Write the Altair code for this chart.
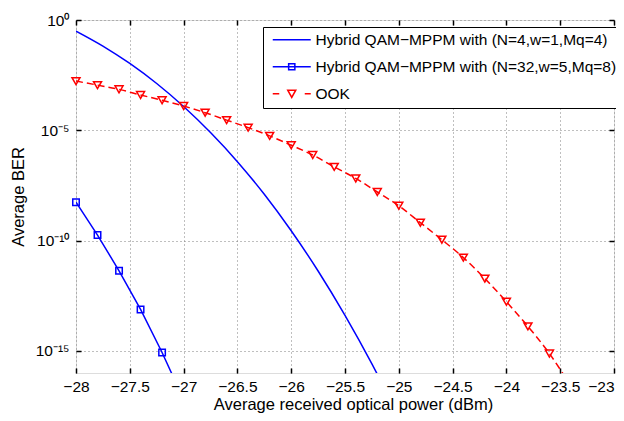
import altair as alt
import pandas as pd

# ---------------- data ----------------
label_n4 = "Hybrid QAM−MPPM with (N=4,w=1,Mq=4)"
label_n32 = "Hybrid QAM−MPPM with (N=32,w=5,Mq=8)"
label_ook = "OOK"
series_order = [label_n4, label_n32, label_ook]

n4_power = [-28.0, -27.75, -27.5, -27.25, -27.0, -26.75, -26.5, -26.25, -26.0,
            -25.75, -25.5, -25.25, -25.0]
n4_ber = [3.16e-1, 6.6e-2, 1.07e-2, 1.32e-3, 1.2e-4, 7.9e-6, 3.8e-7, 1.26e-8,
          2.8e-10, 4.2e-12, 4.1e-14, 2.6e-16, 1.0e-18]

n32_power = [-28.0, -27.8, -27.6, -27.4, -27.2, -27.0]
n32_ber = [5.5e-9, 1.78e-10, 4.3e-12, 7.6e-14, 8.5e-16, 6.3e-18]

ook_power = [-28.0, -27.8, -27.6, -27.4, -27.2, -27.0, -26.8, -26.6, -26.4, -26.2,
             -26.0, -25.8, -25.6, -25.4, -25.2, -25.0, -24.8, -24.6, -24.4, -24.2,
             -24.0, -23.8, -23.6, -23.4]
ook_ber = [1.7e-3, 1.12e-3, 7.2e-4, 4.0e-4, 2.3e-4, 1.26e-4, 6.3e-5, 2.9e-5, 1.32e-5,
           5.6e-6, 2.1e-6, 7.6e-7, 2.2e-7, 6.6e-8, 1.6e-8, 3.8e-9, 6.5e-10, 1.1e-10,
           1.7e-11, 1.9e-12, 1.7e-13, 1.3e-14, 7.6e-16, 2.5e-17]

x_ticks = [-28, -27.5, -27, -26.5, -26, -25.5, -25, -24.5, -24, -23.5, -23]
y_ticks = [1, 1e-5, 1e-10, 1e-15]
y_tick_labels = ["10⁰", "10⁻⁵", "10⁻¹⁰", "10⁻¹⁵"]

# ---------------- tables ----------------
df_n4 = pd.DataFrame({"power": n4_power, "ber": n4_ber, "series": label_n4})
df_n32 = pd.DataFrame({"power": n32_power, "ber": n32_ber, "series": label_n32})
df_ook = pd.DataFrame({"power": ook_power, "ber": ook_ber, "series": label_ook})
df_all = pd.concat([df_n4, df_n32, df_ook], ignore_index=True)

W, H = 538, 353
FONT = "Liberation Sans"
BLUE, RED = "#0000ff", "#ff0000"

xscale = alt.Scale(domain=[-28, -23], nice=False, zero=False)
yscale = alt.Scale(type="log", domain=[1e-16, 1], nice=False)

ylabel_expr = ("round(log(datum.value)/LN10) == 0 ? '%s' : round(log(datum.value)/LN10) == -5 ? '%s' : "
               "round(log(datum.value)/LN10) == -10 ? '%s' : '%s'") % tuple(y_tick_labels)

main_x = alt.Axis(values=x_ticks, format="~g", title="Average received optical power (dBm)",
                  grid=True, gridDash=[1, 3], gridColor="#7f7f7f", gridWidth=1,
                  ticks=False, domain=False, labelPadding=6, labelFontSize=15.5,
                  labelFlush=False,
                  labelAlign=alt.condition("datum.value >= -23.01", alt.value("right"),
                                           alt.value("center")),
                  labelColor="black", titleFontSize=16.5,
                  titleFontWeight="normal", titleColor="black",
                  titleX=277, titleY=36.5, titleBaseline="alphabetic",
                  labelFont=FONT, titleFont=FONT)
main_y = alt.Axis(values=y_ticks, labelExpr=ylabel_expr, title="Average BER",
                  grid=True, gridDash=[1, 3], gridColor="#7f7f7f", gridWidth=1,
                  ticks=False, domain=False, labelPadding=7, labelFontSize=15.5,
                  labelFlush=False, labelColor="black", titleFontSize=16.5,
                  titleFontWeight="normal", titleColor="black", titlePadding=9,
                  labelFont=FONT, titleFont=FONT)


def tick_axis(orient, offset, values):
    return alt.Axis(orient=orient, offset=offset, values=values, labels=False, ticks=True,
                    tickSize=5, tickWidth=1.5, tickColor="black", domain=False,
                    grid=False, title=None)


line_n4 = alt.Chart(df_n4).mark_line(color=BLUE, strokeWidth=1.5, clip=True,
                                     interpolate="monotone").encode(
    x=alt.X("power:Q", scale=xscale, axis=main_x),
    y=alt.Y("ber:Q", scale=yscale, axis=main_y),
)
line_n32 = alt.Chart(df_n32).mark_line(color=BLUE, strokeWidth=1.5, clip=True).encode(
    x=alt.X("power:Q", scale=xscale, axis=tick_axis("top", -H, x_ticks)),
    y=alt.Y("ber:Q", scale=yscale, axis=tick_axis("right", -W, y_ticks)),
)
line_ook = alt.Chart(df_ook).mark_line(color=RED, strokeWidth=1.5, strokeDash=[7, 4],
                                       clip=True, interpolate="monotone").encode(
    x=alt.X("power:Q", scale=xscale, axis=tick_axis("bottom", -H, x_ticks)),
    y=alt.Y("ber:Q", scale=yscale, axis=tick_axis("left", -W, y_ticks)),
)
pts_n32 = alt.Chart(df_n32).transform_filter("datum.ber >= 1e-16").mark_point(
    shape="square", size=42, filled=False, color=BLUE, strokeWidth=1.5, opacity=1).encode(
    x=alt.X("power:Q", scale=xscale, axis=None),
    y=alt.Y("ber:Q", scale=yscale, axis=None),
)
pts_ook = alt.Chart(df_ook).transform_filter("datum.ber >= 1e-16").mark_point(
    shape="triangle-down", size=64, filled=False, color=RED, strokeWidth=1.5, opacity=1).encode(
    x=alt.X("power:Q", scale=xscale, axis=None),
    y=alt.Y("ber:Q", scale=yscale, axis=None),
)

# legend symbols: line + marker drawn as custom paths (units of 5 px)
legend_paths = [
    "M-3.8,0H3.8",
    "M-3.8,0H3.8M-0.62,-0.62H0.62V0.62H-0.62Z",
    "M-3.8,0H-2.5M2.6,0H3.8M-0.8,-0.72H0.8L0,0.72Z",
]
legend = alt.Legend(title=None, orient="none", legendX=187, legendY=7, padding=5,
                    strokeColor="black", fillColor="white",
                    symbolSize=100, symbolStrokeWidth=1.5, symbolOffset=16,
                    labelOffset=16, labelFontSize=15.5, labelFont=FONT, labelColor="black",
                    labelLimit=400, rowPadding=10, symbolOpacity=1)

legend_layer = alt.Chart(df_all).transform_filter("datum.ber >= 1e-16").mark_point(
    opacity=0, filled=False).encode(
    x=alt.X("power:Q", scale=xscale, axis=None),
    y=alt.Y("ber:Q", scale=yscale, axis=None),
    color=alt.Color("series:N", scale=alt.Scale(domain=series_order, range=[BLUE, BLUE, RED]),
                    legend=legend),
    shape=alt.Shape("series:N", scale=alt.Scale(domain=series_order, range=legend_paths),
                    legend=legend),
)

chart = alt.layer(line_n4, line_n32, line_ook, pts_n32, pts_ook, legend_layer).resolve_axis(
    x="independent", y="independent"
).properties(
    width=W, height=H,
    autosize=alt.AutoSizeParams(type="none"),
    padding={"left": 68, "top": 12, "right": 2, "bottom": 40},
).configure_view(stroke="black", strokeWidth=2).configure_legend(
    strokeWidth=2
).configure(font=FONT, background="white")

chart.save("out.html", embed_options={"renderer": "svg", "actions": False})
